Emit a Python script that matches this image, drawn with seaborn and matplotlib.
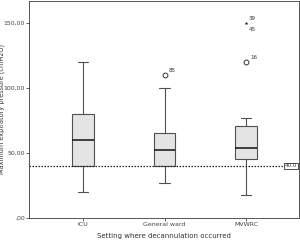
import numpy as np
import pandas as pd
import matplotlib
matplotlib.use("Agg")
import matplotlib.pyplot as plt
import seaborn as sns

# box summaries (cmH2O)
settings = ["ICU", "General ward", "MVWRC"]
whislo = [20, 27, 18]
q1 = [40, 40, 45]
med = [60, 52, 54]
q3 = [80, 65, 71]
whishi = [120, 100, 77]

# outliers (circles) and extremes (stars) with case labels
out_setting = ["General ward", "MVWRC"]
out_value = [110, 120]
out_case = ["85", "16"]
ext_setting = ["MVWRC", "MVWRC"]
ext_value = [150, 150]
ext_case = ["39", "45"]

ref_value = 40.0
yticks = [0, 50, 100, 150]
ytick_labels = [",00", "50,00", "100,00", "150,00"]

sns.set_style("white")
plt.rcParams["font.family"] = ["DejaVu Sans"]

fig = plt.figure(figsize=(3, 2.4), dpi=100)
ax = fig.add_axes([0.097, 0.092, 0.9, 0.905])

stats = []
for i, s in enumerate(settings):
    stats.append(dict(label=s, whislo=whislo[i], q1=q1[i], med=med[i],
                      q3=q3[i], whishi=whishi[i], fliers=[]))
pos = np.arange(len(settings))
ax.bxp(stats, positions=pos, widths=0.26, patch_artist=True, showfliers=False,
       boxprops=dict(facecolor="#e4e4e4", edgecolor="#505050", linewidth=0.8),
       whiskerprops=dict(color="#505050", linewidth=0.8),
       capprops=dict(color="#505050", linewidth=0.8),
       medianprops=dict(color="#111111", linewidth=1.1))

idx = {s: i for i, s in enumerate(settings)}
df_out = pd.DataFrame({"x": [idx[s] for s in out_setting], "y": out_value})
df_ext = pd.DataFrame({"x": [idx[s] for s in ext_setting], "y": ext_value})
sns.scatterplot(data=df_out, x="x", y="y", ax=ax, marker="o", s=12,
                facecolor="white", edgecolor="#333333", linewidth=0.7, zorder=5)
sns.scatterplot(data=df_ext, x="x", y="y", ax=ax, marker="*", s=6,
                color="#333333", linewidth=0, zorder=5)

for s, v, c in zip(out_setting, out_value, out_case):
    ax.annotate(c, (idx[s], v), xytext=(3, 2), textcoords="offset points",
                fontsize=4, color="#333333")
for k, (s, v, c) in enumerate(zip(ext_setting, ext_value, ext_case)):
    dy = 2 if k == 0 else -6
    ax.annotate(c, (idx[s], v), xytext=(2, dy), textcoords="offset points",
                fontsize=4, color="#333333")

ax.axhline(ref_value, color="#222222", linestyle=(0, (1.2, 1.2)), linewidth=0.9)
ax.text(0.993, ref_value, "{:.1f}".format(ref_value), transform=ax.get_yaxis_transform(),
        ha="right", va="center", fontsize=4, color="#333333",
        bbox=dict(boxstyle="square,pad=0.15", facecolor="white",
                  edgecolor="#333333", linewidth=0.6))

ax.set_xlim(-0.66, 2.65)
ax.set_ylim(0, 167)
ax.set_xticks(pos)
ax.set_xticklabels(settings, fontsize=4.5, color="#333333")
ax.set_yticks(yticks)
ax.set_yticklabels(ytick_labels, fontsize=4.5, color="#333333")
ax.tick_params(axis="both", length=2, width=0.6, pad=1, direction="out",
               colors="#444444", left=True, bottom=True)
ax.set_xlabel("Setting where decannulation occurred", fontsize=5, color="#333333", labelpad=4)
ax.set_ylabel("Maximum expiratory pressure (cmH2O)", fontsize=4.7, color="#333333")
ax.yaxis.set_label_coords(-0.088, 0.5)
for sp in ax.spines.values():
    sp.set_color("#555555")
    sp.set_linewidth(0.7)

fig.savefig("out.png", dpi=100)
